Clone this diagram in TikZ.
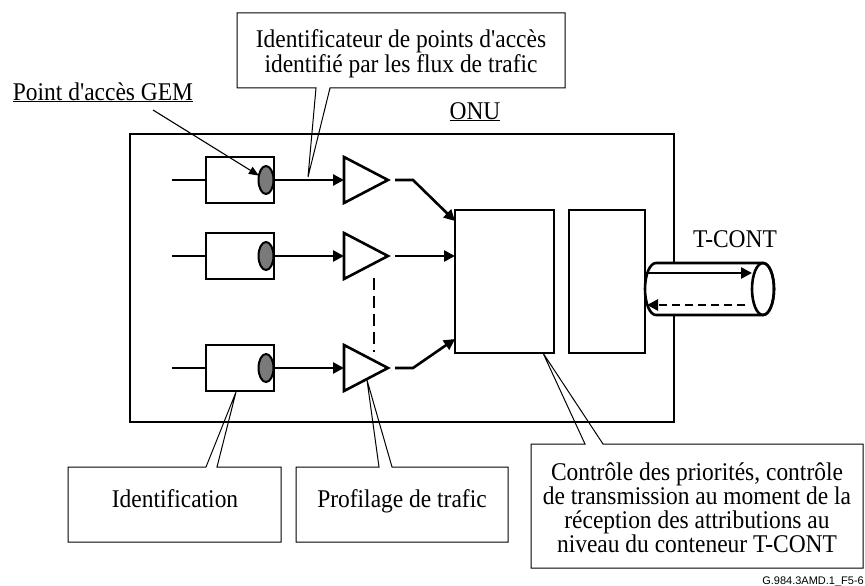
\documentclass[tikz,border=0pt]{standalone}
\usepackage{fontspec}
\newfontfamily\tms{Liberation Serif}[FakeStretch=0.92]
\newfontfamily\labelsans{Liberation Sans}
\usetikzlibrary{arrows.meta,shapes.geometric,calc}
\begin{document}
\begin{tikzpicture}[x=1pt,y=-1pt,
  thk/.style={line width=2.6pt},
  thn/.style={line width=1.1pt},
  arr/.style={-{Triangle[length=11pt,width=11pt]}},
  sarr/.style={-{Triangle[length=10pt,width=8pt]}},
  blk/.style={draw,thk,inner sep=0pt,outer sep=0pt},
  port/.style={ellipse,draw,line width=2pt,fill=gray!70!black!80,minimum width=15pt,minimum height=28pt,inner sep=0pt,outer sep=0pt},
  txt/.style={inner sep=0pt,align=center},
  call/.style={draw,line width=1pt,line join=miter},
  font=\tms\fontsize{25.5}{25}\selectfont]
\useasboundingbox (0,0) rectangle (865,586);

% ONU frame
\node[blk,minimum width=544pt,minimum height=288pt] (onu) at (402,278) {};

% labels
\node[txt,anchor=base] (gem) at (103,100) {\underline{Point d'accès GEM}};
\node[txt,anchor=base] (onulbl) at (475,119) {\underline{ONU}};
\node[txt,anchor=base] (tcont) at (735,247) {T-CONT};

% rows
\foreach \i/\y in {1/180,2/256,3/368}{
  \coordinate (in\i) at (172,\y);
  \node[blk,minimum width=68pt,minimum height=46pt] (q\i) at (240,\y) {};
  \node[port] (e\i) at (266,\y) {};
  \coordinate (tin\i) at (344,\y);
  \coordinate (tout\i) at (388,\y);
  \draw[thk,line join=miter] (tin\i) ++(0,-23) -- ++(0,46) -- (tout\i) -- cycle;
  \draw[thk] (in\i) -- (q\i.west);
  \draw[thk,arr] (e\i.east) -- (tin\i);
}

% scheduler blocks
\node[blk,minimum width=99pt,minimum height=143pt] (B) at (504.5,281.5) {};
\node[blk,minimum width=76pt,minimum height=143pt] (C) at (607,281.5) {};

% outputs of shapers
\draw[thk,arr] ($(tout1)+(7,0)$) -- ++(18,0) -- ($(B.north west)+(0,11)$);
\draw[thk,arr] ($(tout2)+(7,0)$) -- (B.west |- tout2);
\draw[thk,arr] ($(tout3)+(7,0)$) -- ++(18,0) -- ($(B.south west)+(0,-14)$);

% dashed vertical between shapers
\coordinate (dtop) at (374,278);
\coordinate (dbot) at (374,352);
\draw[thk,dash pattern=on 12pt off 6pt] (dtop) -- (dbot);

% T-CONT cylinder
\filldraw[thk,fill=white] (656,263) -- (763,263)
  arc[start angle=-90,end angle=90,x radius=11,y radius=26]
  -- (656,315)
  arc[start angle=90,end angle=270,x radius=11,y radius=26] -- cycle;
\draw[thk] (763,289) ellipse[x radius=11,y radius=26];
\coordinate (cylA) at (646,273);
\coordinate (cylB) at (752,273);
\coordinate (cylC) at (745,305);
\coordinate (cylD) at (647,305);
\draw[thk,arr] (cylA) -- (cylB);
\draw[thk,arr,dash pattern=on 8pt off 5pt] (cylC) -- (cylD);

% GEM access point pointer
\coordinate (gemtail) at (153,110);
\draw[thn,sarr] (gemtail) -- (e1);

% callout: top
\draw[call] (237,13) -- (565,13) -- (565,88) -- (330,88) -- (308,177) -- (316,88) -- (237,88) -- cycle;
\node[txt] (ctop) at (401,54) {Identificateur de points d'accès\\identifié par les flux de trafic};

% callout: identification
\draw[call] (68,467) -- (206,467) -- (236,392) -- (217,467) -- (281,467) -- (281,542) -- (68,542) -- cycle;
\node[txt,anchor=base] (cid) at (175,507) {Identification};

% callout: traffic shaping
\draw[call] (296,467) -- (379,467) -- (367,380) -- (392,467) -- (508,467) -- (508,542) -- (296,542) -- cycle;
\node[txt,anchor=base] (cprof) at (402,507) {Profilage de trafic};

% callout: priority control
\draw[call] (531,444) -- (585,444) -- (543,353) -- (603,444) -- (863,444) -- (863,568) -- (531,568) -- cycle;
\node[txt,font=\tms\fontsize{25.5}{24}\selectfont] (cprio) at (697,508) {Contrôle des priorités, contrôle\\de transmission au moment de la\\réception des attributions au\\niveau du conteneur T-CONT};

% figure reference
\node[anchor=base east,inner sep=0pt,font=\labelsans\fontsize{11}{13}\selectfont] (figref) at (864,584) {G.984.3AMD.1\_F5-6};
\end{tikzpicture}
\end{document}
